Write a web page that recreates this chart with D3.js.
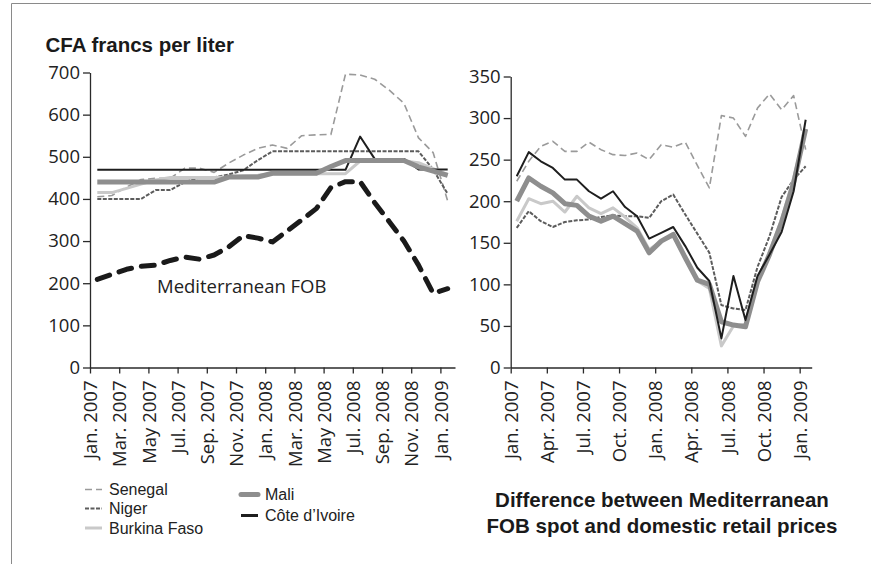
<!DOCTYPE html>
<html>
<head>
<meta charset="utf-8">
<script src="https://cdn.jsdelivr.net/npm/d3@7"></script>
<style>
  html, body { margin: 0; padding: 0; background: #fff; }
  svg { display: block; }
</style>
</head>
<body>
<svg id="chart" width="871" height="564"></svg>
<script>
// ---------- DATA ----------
// 25 monthly observations, Jan. 2007 .. Jan. 2009
const leftTickLabels = ["Jan. 2007","Mar. 2007","May 2007","Jul. 2007","Sep. 2007","Nov. 2007",
  "Jan. 2008","Mar. 2008","May 2008","Jul. 2008","Sep. 2008","Nov. 2008","Jan. 2009"];
const rightTickLabels = ["Jan. 2007","Apr. 2007","Jul. 2007","Oct. 2007","Jan. 2008",
  "Apr. 2008","Jul. 2008","Oct. 2008","Jan. 2009"];
const leftYTicks = [0,100,200,300,400,500,600,700];
const rightYTicks = [0,50,100,150,200,250,300,350];

// Retail prices, CFA francs per liter
const senegalPrice = [405,408,428,446,449,449,473,473,463,485,504,520,528,520,550,552,553,696,694,684,658,627,545,510,395];
const nigerPrice   = [400,400,400,400,421,421,440,451,451,458,468,492,513,513,513,513,513,513,513,513,513,513,513,470,412];
const burkinaPrice = [415,415,425,435,445,451,451,451,451,452,455,456,460,460,460,460,460,460,490,490,490,490,486,472,458];
const maliPrice    = [440,440,440,440,440,440,440,440,440,452,452,452,461,461,461,461,477,491,491,491,491,491,476,466,456];
const ciPrice      = [469,469,469,469,469,469,469,469,469,469,469,469,469,469,469,469,469,469,548,495,495,495,470,470,470];
const fobPrice     = [209,221,233,240,243,254,262,257,267,286,313,307,298,324,350,377,427,441,441,391,346,300,243,176,187];

// Difference between Mediterranean FOB spot and domestic retail prices
const senegalGap = [224,248,266,272,260,260,271,262,256,255,258,250,268,265,271,243,216,303,300,278,312,329,310,327,262];
const nigerGap   = [168,188,176,169,175,177,178,181,183,182,182,180,200,208,184,161,138,75,71,69,121,158,205,226,242];
const burkinaGap = [176,203,197,200,187,206,192,185,192,181,168,142,152,158,132,104,95,26,50,52,105,140,178,228,285];
const maliGap    = [200,228,218,210,197,195,182,176,182,173,164,138,152,160,132,105,100,55,51,49,103,136,175,222,287];
const ciGap      = [230,259,248,240,226,226,212,203,212,193,182,155,162,169,146,120,104,35,110,57,110,136,163,212,298];

// ---------- STYLES ----------
const styles = {
  Senegal:  {color:"#9a9a9a", width:1.6, dash:"7,4"},
  Niger:    {color:"#5c5c5c", width:2,   dash:"4,1.5"},
  Burkina:  {color:"#c9c9c9", width:3,   dash:null},
  Mali:     {color:"#8e8e8e", width:5,   dash:null},
  CI:       {color:"#1e1e1e", width:2,   dash:null},
  FOB:      {color:"#1a1a1a", width:5,   dash:"13,10"}
};
const tickFont = "'Open Sans', sans-serif";
const legendFont = "'Liberation Sans', Arial, sans-serif";

const svg = d3.select("#chart");

// frame
svg.append("path").attr("d","M11.5,564 L11.5,3.5 L871,3.5")
  .attr("fill","none").attr("stroke","#8a8a8a").attr("stroke-width",1);

function drawPanel(opts) {
  const x = d3.scaleLinear().domain([0,25]).range([opts.x0, opts.x1]);
  const y = d3.scaleLinear().domain([0, opts.yMax]).range([opts.yBottom, opts.yTop]);
  const g = svg.append("g");

  const ya = g.append("g").attr("transform",`translate(${opts.x0},0)`)
    .call(d3.axisLeft(y).tickValues(opts.yTicks).tickSize(7).tickSizeOuter(0).tickPadding(3));
  const xa = g.append("g").attr("transform",`translate(0,${opts.yBottom})`)
    .call(d3.axisBottom(x).tickValues(opts.xTickIdx).tickSize(6).tickSizeOuter(0)
      .tickFormat((d,i)=>opts.xLabels[i]));
  [ya, xa].forEach(a => {
    a.select(".domain").attr("stroke","#2a2a2a").attr("stroke-width",1.3);
    a.selectAll(".tick line").attr("stroke","#2a2a2a").attr("stroke-width",1.3);
    a.selectAll("text").attr("fill","#222").style("font-family",tickFont).style("font-size","18.5px");
  });
  xa.selectAll("text")
    .attr("transform","rotate(-90)")
    .attr("x",-13).attr("y",0).attr("dy","0.36em")
    .style("text-anchor","end");

  const line = d3.line().x((d,i)=>x(i+0.5)).y(d=>y(d));
  opts.series.forEach(s => {
    const st = styles[s.key];
    g.append("path").datum(s.values)
      .attr("d", line)
      .attr("fill","none")
      .attr("stroke", st.color)
      .attr("stroke-width", st.width)
      .attr("stroke-dasharray", st.dash)
      .attr("stroke-linejoin","round")
      .attr("stroke-linecap", s.key==="FOB" ? "round" : "butt");
  });
  return {x, y, g};
}

// left panel
drawPanel({
  x0:90, x1:455, yBottom:367.5, yTop:72.5, yMax:700,
  yTicks:leftYTicks, xTickIdx:d3.range(0,25,2), xLabels:leftTickLabels,
  series:[
    {key:"Senegal", values:senegalPrice},
    {key:"Niger",   values:nigerPrice},
    {key:"Burkina", values:burkinaPrice},
    {key:"CI",      values:ciPrice},
    {key:"Mali",    values:maliPrice},
    {key:"FOB",     values:fobPrice}
  ]
});

// right panel
drawPanel({
  x0:510.7, x1:811.7, yBottom:367.5, yTop:76.5, yMax:350,
  yTicks:rightYTicks, xTickIdx:d3.range(0,25,3), xLabels:rightTickLabels,
  series:[
    {key:"Senegal", values:senegalGap},
    {key:"Niger",   values:nigerGap},
    {key:"Burkina", values:burkinaGap},
    {key:"Mali",    values:maliGap},
    {key:"CI",      values:ciGap}
  ]
});

// titles
svg.append("text").attr("x",45.5).attr("y",52)
  .style("font-family","'Liberation Sans', Arial, sans-serif").style("font-weight","bold")
  .style("font-size","20.5px").attr("fill","#1a1a1a").text("CFA francs per liter");

svg.append("text").attr("x",157).attr("y",293)
  .style("font-family",tickFont).style("font-size","18.5px").attr("fill","#222")
  .text("Mediterranean FOB");

const sub = svg.append("text").attr("text-anchor","middle")
  .style("font-family","'Liberation Sans', Arial, sans-serif").style("font-weight","bold")
  .style("font-size","20.5px").attr("fill","#1a1a1a");
sub.append("tspan").attr("x",662).attr("y",507).text("Difference between Mediterranean");
sub.append("tspan").attr("x",662).attr("y",533).text("FOB spot and domestic retail prices");

// legend
const legendItems = [
  {key:"Senegal", label:"Senegal",       x:85,  y:489.5},
  {key:"Niger",   label:"Niger",         x:85,  y:508.5},
  {key:"Burkina", label:"Burkina Faso",  x:85,  y:528},
  {key:"Mali",    label:"Mali",          x:241, y:494.5},
  {key:"CI",      label:"Côte d\u2019Ivoire", x:241, y:515.5}
];
legendItems.forEach(it => {
  const st = styles[it.key];
  svg.append("line").attr("x1",it.x).attr("x2",it.x+17).attr("y1",it.y).attr("y2",it.y)
    .attr("stroke",st.color).attr("stroke-width", it.key==="CI" ? 3 : st.width)
    .attr("stroke-dasharray", st.dash)
    .attr("stroke-linecap", it.key==="Mali" ? "round" : "butt");
  svg.append("text").attr("x", it.x+24).attr("y", it.y).attr("dy","0.35em")
    .style("font-family",legendFont).style("font-size","16px").attr("fill","#222")
    .text(it.label);
});
</script>
</body>
</html>
